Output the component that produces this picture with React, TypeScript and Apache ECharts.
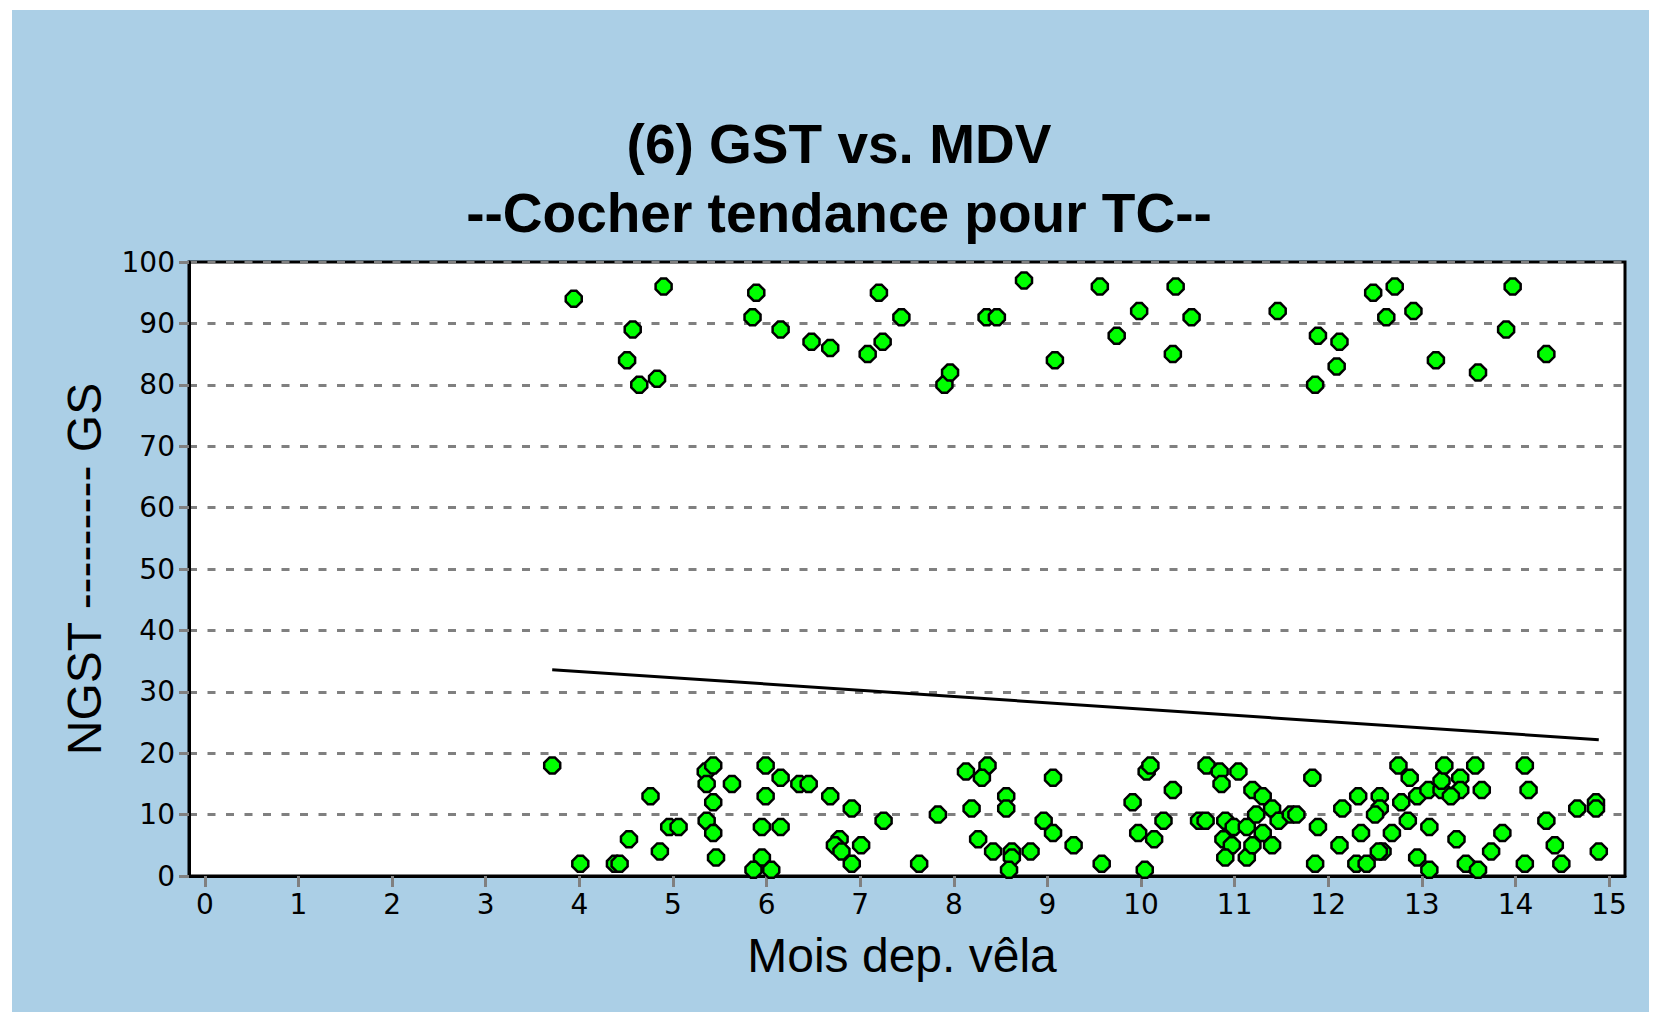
import React, { useEffect, useRef } from "react";
import * as echarts from "echarts";

// Upper group (GS)
const highX = [3.94, 4.51, 4.57, 4.64, 4.83, 4.9, 5.85, 5.89, 6.15, 6.48, 6.68, 7.08, 7.2, 7.24, 7.44, 7.9, 7.96, 8.35, 8.46, 8.75, 9.08, 9.56, 9.74, 9.98, 10.34, 10.37, 10.54, 11.46, 11.86, 11.89, 12.09, 12.12, 12.48, 12.62, 12.71, 12.91, 13.15, 13.6, 13.9, 13.97, 14.33];
const highY = [94, 84, 89, 80, 81, 96, 91, 95, 89, 87, 86, 85, 95, 87, 91, 80, 82, 91, 91, 97, 84, 96, 88, 92, 85, 96, 91, 92, 80, 88, 83, 87, 95, 91, 96, 92, 84, 82, 89, 96, 85];

// Lower group (NGST)
const lowX = [3.71, 4.01, 4.38, 4.43, 4.53, 4.76, 4.86, 4.96, 5.06, 5.35, 5.43, 5.36, 5.63, 5.43, 5.36, 5.43, 5.46, 5.99, 6.15, 6.35, 6.45, 5.99, 6.68, 6.91, 7.25, 5.95, 6.15, 5.95, 5.86, 6.05, 6.78, 6.73, 6.8, 7.01, 6.91, 7.63, 7.83, 8.13, 8.36, 8.3, 9.06, 8.56, 8.56, 8.19, 8.96, 9.06, 8.26, 8.42, 8.62, 8.62, 8.82, 8.59, 9.28, 9.58, 9.91, 10.04, 9.97, 10.14, 10.24, 10.34, 10.06, 10.1, 10.7, 10.84, 11.04, 10.86, 10.62, 10.69, 10.9, 10.99, 10.88, 10.97, 10.9, 11.13, 11.13, 11.19, 11.3, 11.23, 11.19, 11.3, 11.4, 11.47, 11.4, 11.6, 11.66, 11.83, 11.89, 11.86, 12.15, 12.12, 12.32, 12.35, 12.3, 12.41, 12.55, 12.55, 12.5, 12.68, 12.58, 12.54, 12.75, 12.87, 12.78, 12.95, 12.85, 13.07, 13.21, 13.21, 13.24, 13.41, 13.41, 13.31, 13.57, 13.64, 13.08, 12.95, 13.08, 13.37, 13.47, 13.6, 13.74, 13.86, 14.1, 14.14, 14.1, 14.33, 14.42, 14.49, 14.66, 14.86, 14.86, 14.89];
const lowY = [18, 2, 2, 2, 6, 13, 4, 8, 8, 17, 18, 15, 15, 12, 9, 7, 3, 18, 16, 15, 15, 13, 13, 11, 9, 8, 8, 3, 1, 1, 6, 5, 4, 5, 2, 2, 10, 17, 18, 16, 16, 13, 11, 11, 9, 7, 6, 4, 4, 3, 4, 1, 5, 2, 12, 1, 7, 6, 9, 14, 17, 18, 18, 17, 17, 15, 9, 9, 9, 8, 6, 5, 3, 3, 8, 5, 7, 10, 14, 13, 11, 9, 5, 10, 10, 16, 8, 2, 11, 5, 13, 7, 2, 2, 13, 11, 10, 7, 4, 4, 18, 16, 12, 13, 9, 14, 14, 15.5, 18, 16, 14, 13, 18, 14, 8, 3, 1, 6, 2, 1, 4, 7, 18, 14, 2, 9, 5, 2, 11, 12, 11, 4];

// Trend line ("tendance")
const trendX = [3.71, 14.89];
const trendY = [33.6, 22.2];

const xTicks = [0, 1, 2, 3, 4, 5, 6, 7, 8, 9, 10, 11, 12, 13, 14, 15];
const yTicks = [0, 10, 20, 30, 40, 50, 60, 70, 80, 90, 100];

const titleLines = ["(6) GST vs. MDV", "--Cocher tendance pour TC--"];
const xName = "Mois dep. vêla";
const yName = "NGST --------- GS";

const SANS = '"Liberation Sans", Arial, sans-serif';
const TICKFONT = '"DejaVu Sans", sans-serif';

export default function App() {
  const ref = useRef<HTMLDivElement>(null);
  useEffect(() => {
    if (!ref.current) return;
    const chart = echarts.init(ref.current, undefined, { renderer: "svg" });
    const points = highX
      .map((x, i) => [x, highY[i]])
      .concat(lowX.map((x, i) => [x, lowY[i]]));
    const trend = trendX.map((x, i) => [x, trendY[i]]);
    chart.setOption({
      animation: false,
      backgroundColor: "#ABCFE6",
      graphic: [
        {
          type: "text",
          x: 827,
          y: 134,
          style: {
            text: titleLines[0],
            fontSize: 55,
            fontWeight: "bold",
            fontFamily: SANS,
            fill: "#000",
            align: "center",
            verticalAlign: "middle",
          },
        },
        {
          type: "text",
          x: 827,
          y: 203,
          style: {
            text: titleLines[1],
            fontSize: 55,
            fontWeight: "bold",
            fontFamily: SANS,
            fill: "#000",
            align: "center",
            verticalAlign: "middle",
          },
        },
        {
          type: "text",
          x: 890,
          y: 945,
          style: {
            text: xName,
            fontSize: 48,
            fontFamily: SANS,
            fill: "#000",
            align: "center",
            verticalAlign: "middle",
          },
        },
        {
          type: "text",
          x: 72,
          y: 559,
          rotation: Math.PI / 2,
          style: {
            text: yName,
            fontSize: 48,
            fontFamily: SANS,
            fill: "#000",
            align: "center",
            verticalAlign: "middle",
          },
        },
      ],
      grid: {
        left: 177,
        top: 252,
        right: 24,
        bottom: 136,
        show: true,
        backgroundColor: "#ffffff",
        borderColor: "#000000",
        borderWidth: 3,
      },
      xAxis: {
        type: "value",
        min: -0.17,
        max: 15.17,
        axisLine: { show: true, onZero: false, lineStyle: { color: "#000", width: 3 } },
        axisTick: {
          show: true,
          customValues: xTicks,
          length: 11,
          lineStyle: { color: "#808080", width: 3 },
        },
        axisLabel: {
          customValues: xTicks,
          margin: 14,
          fontSize: 28,
          fontFamily: TICKFONT,
          color: "#000",
        },
        splitLine: { show: false },
      },
      yAxis: {
        type: "value",
        min: 0,
        max: 100,
        interval: 10,
        axisLine: { show: true, onZero: false, lineStyle: { color: "#000", width: 3 } },
        axisTick: { show: true, length: 10, lineStyle: { color: "#808080", width: 3 } },
        axisLabel: {
          customValues: yTicks,
          margin: 14,
          fontSize: 28,
          fontFamily: TICKFONT,
          color: "#000",
        },
        splitLine: {
          show: true,
          lineStyle: { color: "#808080", width: 3, type: [8, 10.5] },
        },
      },
      series: [
        {
          type: "scatter",
          data: points,
          symbol: "path://M2,0L4,0L6,2L6,4L4,6L2,6L0,4L0,2Z",
          symbolSize: 16,
          itemStyle: { color: "#00FF00", borderColor: "#000", borderWidth: 2.5, opacity: 1 },
          z: 3,
        },
        {
          type: "line",
          data: trend,
          symbol: "none",
          showSymbol: false,
          lineStyle: { color: "#000", width: 3 },
          z: 4,
        },
      ],
    });
    return () => chart.dispose();
  }, []);
  return (
    <div style={{ position: "absolute", left: 0, top: 0, width: 1662, height: 1013, background: "#fff" }}>
      <div
        ref={ref}
        style={{ position: "absolute", left: 12, top: 10, width: 1637, height: 1002 }}
      />
    </div>
  );
}
